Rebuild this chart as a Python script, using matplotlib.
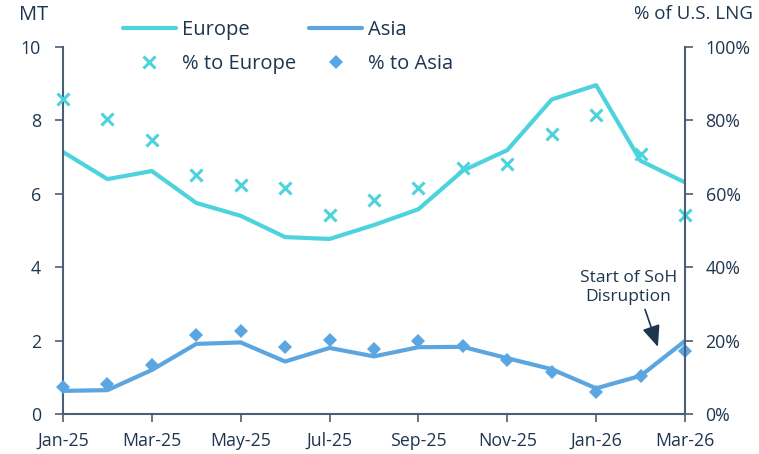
import matplotlib
matplotlib.use("Agg")
import matplotlib.pyplot as plt
from matplotlib.ticker import PercentFormatter

plt.rcParams['font.family'] = ['Open Sans', 'DejaVu Sans']

months = ["Jan-25", "Feb-25", "Mar-25", "Apr-25", "May-25", "Jun-25", "Jul-25", "Aug-25",
          "Sep-25", "Oct-25", "Nov-25", "Dec-25", "Jan-26", "Feb-26", "Mar-26"]
europe_mt = [7.14, 6.40, 6.62, 5.75, 5.40, 4.82, 4.77, 5.15, 5.58, 6.63, 7.19, 8.57, 8.96, 6.90, 6.31]
asia_mt = [0.63, 0.65, 1.20, 1.91, 1.95, 1.43, 1.80, 1.57, 1.82, 1.83, 1.52, 1.22, 0.70, 1.04, 1.99]
pct_europe = [85.7, 80.4, 74.7, 65.0, 62.4, 61.7, 54.2, 58.3, 61.7, 67.0, 68.0, 76.3, 81.5, 70.8, 54.2]
pct_asia = [7.4, 8.2, 13.4, 21.6, 22.7, 18.3, 20.2, 17.8, 20.0, 18.6, 14.7, 11.5, 6.1, 10.4, 17.1]

c_eu = "#4dd3dc"
c_as = "#5ba6e0"
c_txt = "#1e3550"
c_ax = "#4a5f75"

fig = plt.figure(figsize=(7.59, 4.54), dpi=100)
ax = fig.add_axes([63/759, 1-414/454, (685-63)/759, (414-47)/454])
ax2 = ax.twinx()

x = list(range(len(months)))
l1, = ax.plot(x, europe_mt, color=c_eu, lw=3, label="Europe", solid_capstyle='round')
l2, = ax.plot(x, asia_mt, color=c_as, lw=3, label="Asia", solid_capstyle='round')
s1, = ax2.plot(x, [v/100 for v in pct_europe], linestyle='none', marker='x', ms=9, mew=2.2,
               color=c_eu, label="% to Europe", clip_on=False)
s2, = ax2.plot(x, [v/100 for v in pct_asia], linestyle='none', marker='D', ms=7.5, mew=0,
               color=c_as, label="% to Asia", clip_on=False)

ax.set_xlim(0, len(months)-1)
ax.set_ylim(0, 10)
ax2.set_ylim(0, 1)
ax.set_yticks([0, 2, 4, 6, 8, 10])
ax2.set_yticks([0, 0.2, 0.4, 0.6, 0.8, 1.0])
ax2.yaxis.set_major_formatter(PercentFormatter(1.0, decimals=0))
ax.set_xticks(x[::2])
ax.set_xticklabels(months[::2])

fs = 12.8
for a in (ax, ax2):
    a.spines['top'].set_visible(False)
    a.tick_params(colors=c_ax, labelcolor=c_txt, labelsize=fs, length=5.8, width=1.2)
    for sp in a.spines.values():
        sp.set_color(c_ax)
        sp.set_linewidth(1.5)
ax.spines['right'].set_visible(False)
ax2.spines['left'].set_visible(False)
ax2.spines['bottom'].set_visible(False)
ax.tick_params(axis='x', pad=7)
ax.tick_params(axis='y', pad=10)
ax2.tick_params(axis='y', pad=9)

fig.text(19/759, 1-15/454, "MT", fontsize=14.5, color=c_txt, va='center', ha='left')
fig.text(753/759, 1-14/454, "% of U.S. LNG", fontsize=13.5, color=c_txt, va='center', ha='right')

leg = fig.legend([l1, s1, l2, s2], ["Europe", "% to Europe", "Asia", "% to Asia"],
                 ncol=2, loc='center', bbox_to_anchor=(288/759, 1-47/454), frameon=False,
                 fontsize=14.5, handlelength=2.64, columnspacing=0.65, labelspacing=0.72,
                 handletextpad=0.3, borderpad=0, borderaxespad=0)
for t in leg.get_texts():
    t.set_color(c_txt)

ax.text(12.72, 3.46, "Start of SoH\nDisruption", fontsize=12.5, color=c_txt,
        ha='center', va='center', linespacing=1.25)
ax.annotate("", xy=(13.39, 1.83), xytext=(13.1, 2.85),
            arrowprops=dict(arrowstyle='-|>,head_length=1.3,head_width=0.55', color=c_txt,
                            lw=1.2, shrinkA=0, shrinkB=0))

fig.savefig("out.png", dpi=100)
